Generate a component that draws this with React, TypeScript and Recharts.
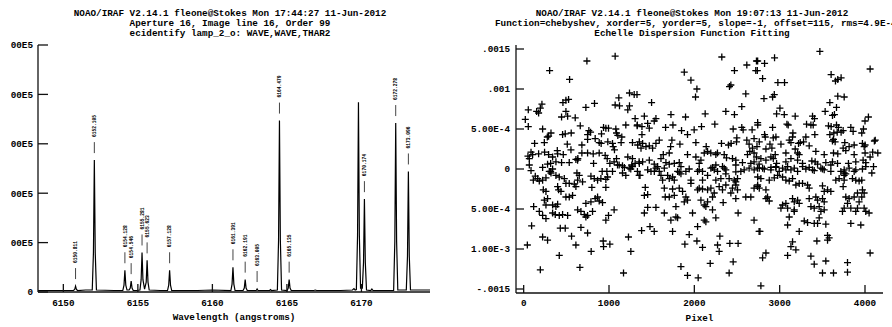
import React from 'react';
import { ComposedChart, ScatterChart, Line, Scatter, XAxis, YAxis, Label } from 'recharts';

const FONT = '"Liberation Mono", "DejaVu Sans Mono", monospace';

// ---- left panel: ThAr lamp spectrum, order 99 ----
const waveTicks = [6150, 6155, 6160, 6165, 6170];
const fluxTicks = [0, 1, 2, 3, 4, 5];

// [wavelength, flux (1e5)]
const spectrum: [number, number][] = [
  [6148.3, 0.03], [6150.0, 0.03], [6150.68, 0.03], [6150.76, 0.05], [6150.82, 0.12], [6150.88, 0.05],
  [6150.96, 0.03], [6151.5, 0.04], [6151.94, 0.04], [6152.02, 0.8], [6152.08, 2.67], [6152.14, 0.8],
  [6152.22, 0.04], [6153.4, 0.03], [6153.99, 0.03], [6154.07, 0.14], [6154.13, 0.44], [6154.19, 0.14],
  [6154.27, 0.04], [6154.41, 0.04], [6154.49, 0.08], [6154.55, 0.22], [6154.61, 0.08], [6154.69, 0.03],
  [6154.9, 0.03], [6155.14, 0.04], [6155.22, 0.25], [6155.28, 0.8], [6155.34, 0.25], [6155.45, 0.06],
  [6155.56, 0.2], [6155.62, 0.64], [6155.68, 0.2], [6155.76, 0.04], [6156.5, 0.03], [6156.99, 0.03],
  [6157.07, 0.14], [6157.13, 0.44], [6157.19, 0.14], [6157.27, 0.03], [6159.0, 0.03], [6160.0, 0.04],
  [6161.24, 0.03], [6161.32, 0.16], [6161.38, 0.5], [6161.44, 0.16], [6161.52, 0.03], [6162.06, 0.03],
  [6162.14, 0.08], [6162.2, 0.25], [6162.26, 0.08], [6162.34, 0.03], [6162.94, 0.03], [6163.0, 0.06],
  [6163.06, 0.03], [6163.84, 0.03], [6163.9, 0.05], [6163.96, 0.03], [6164.36, 0.04], [6164.44, 1.05],
  [6164.5, 3.47], [6164.56, 1.05], [6164.64, 0.04], [6165.01, 0.03], [6165.09, 0.08], [6165.15, 0.25],
  [6165.21, 0.08], [6165.29, 0.03], [6166.8, 0.03], [6166.9, 0.04], [6167.0, 0.03], [6168.6, 0.03],
  [6169.4, 0.04], [6169.5, 0.07], [6169.58, 0.04], [6169.66, 0.05], [6169.74, 1.15], [6169.8, 3.84],
  [6169.86, 1.15], [6169.94, 0.08], [6170.06, 0.08], [6170.14, 0.6], [6170.2, 1.88], [6170.26, 0.6],
  [6170.34, 0.04], [6170.62, 0.03], [6170.7, 0.06], [6170.78, 0.03], [6172.16, 0.03], [6172.24, 1.02],
  [6172.3, 3.42], [6172.36, 1.02], [6172.44, 0.04], [6173.01, 0.04], [6173.09, 0.73], [6173.15, 2.44],
  [6173.21, 0.73], [6173.29, 0.04], [6174.6, 0.04],
];

// identified lines
const lineWave = [6150.82, 6152.08, 6154.13, 6154.55, 6155.28, 6155.62, 6157.13, 6161.38, 6162.2, 6163.0, 6164.5, 6165.15, 6170.2, 6172.3, 6173.15];
const lineFlux = [0.12, 2.67, 0.44, 0.22, 0.8, 0.64, 0.44, 0.5, 0.25, 0.06, 3.47, 0.25, 1.88, 3.42, 2.44];
const lineLabel = ['6150.811', '6152.105', '6154.128', '6154.546', '6155.281', '6155.623', '6157.128', '6161.391', '6162.191', '6163.005', '6164.479', '6165.135', '6170.174', '6172.278', '6173.096'];

// ---- right panel: dispersion fit residuals ----
const pixelTicks = [0, 1000, 2000, 3000, 4000];
const residTicks = [-15, -10, -5, 0, 5, 10, 15];
const residTickText = ['-.0015', '-1.00E-3', '-5.00E-4', '0', '5.00E-4', '.001', '.0015'];

// [pixel, residual (1e-4 A)]
const residuals: [number, number][] = [
  [741, 13.5], [1072, 14.1], [304, 12.3], [538, 11.2], [54, 7.4], [152, 7.2], [175, 7.0], [195, 7.6], [214, 8.1],
  [19, 6.2], [495, 8.6], [526, 8.7], [460, 8.3], [495, 7.2], [444, 6.5], [515, 6.6], [604, 6.4], [729, 7.7],
  [830, 8.2], [1115, 8.9], [1240, 9.5], [1295, 9.3], [1072, 8.0], [1123, 7.9], [1240, 7.9], [1220, 7.4], [1306, 6.3],
  [1330, 5.4], [1197, 5.5], [54, 5.3], [222, 5.0], [663, 5.4], [292, 4.1], [320, 4.5], [277, 4.0], [456, 4.3],
  [487, 4.4], [557, 4.5], [764, 4.8], [749, 4.3], [784, 4.6], [912, 4.4], [936, 5.2], [963, 5.1], [994, 5.1],
  [1080, 5.0], [1088, 4.5], [1103, 4.2], [1150, 4.0], [128, 3.2], [242, 3.3], [511, 3.1], [682, 3.0], [749, 3.7],
  [838, 3.8], [885, 3.3], [908, 3.2], [986, 3.4], [1041, 3.2], [1049, 2.8], [1064, 2.4], [1142, 3.3], [1275, 3.3],
  [86, 2.1], [50, 1.6], [66, 1.3], [105, 1.8], [175, 1.9], [245, 2.1], [292, 1.8], [339, 1.5], [394, 2.3],
  [398, 1.9], [464, 1.8], [554, 2.4], [612, 1.2], [635, 1.3], [682, 2.0], [749, 2.0], [815, 1.9], [885, 2.0],
  [955, 1.7], [979, 1.3], [1088, 1.3], [1220, 1.5], [1275, 1.3], [66, 0.5], [280, 0.6], [316, 0.7], [378, 0.9],
  [444, 0.8], [534, 0.8], [632, 1.1], [819, 0.7], [1010, 0.7], [1060, 0.9], [1100, 0.5], [1158, 0.4], [1267, 0.5],
  [1306, 0.7], [1353, 0.9], [86, -0.2], [222, 0.2], [316, -0.3], [920, -0.3], [975, -0.3], [1255, 0.0],
  [2322, 14.0], [1882, 12.1], [1960, 11.1], [2030, 10.0], [2014, 9.0], [1328, 9.3], [2470, 12.3], [2615, 13.0],
  [2728, 13.5], [2720, 12.3], [2428, 10.5], [2412, 10.3], [2603, 9.4], [1499, 8.3], [2556, 7.8], [2369, 7.2],
  [2470, 6.8], [1726, 6.8], [1897, 6.5], [2127, 6.9], [1414, 6.6], [1550, 6.3], [1530, 6.0], [1332, 5.5],
  [1386, 5.3], [1453, 5.7], [1472, 5.1], [1663, 5.2], [1749, 5.5], [1850, 4.8], [1920, 4.3], [1998, 4.9],
  [2084, 5.3], [2240, 5.6], [2455, 5.0], [2556, 5.2], [2572, 4.9], [2677, 4.9], [2743, 5.5], [1386, 4.3],
  [1355, 3.4], [1336, 3.0], [1394, 3.2], [1433, 2.8], [1375, 2.6], [1472, 2.9], [1550, 3.2], [1589, 3.6],
  [1511, 2.6], [1737, 3.6], [1722, 2.8], [1831, 3.1], [2018, 3.3], [2139, 2.8], [2155, 2.2], [2252, 1.8],
  [2318, 3.2], [2400, 3.0], [2431, 3.2], [2498, 3.9], [2494, 3.4], [2615, 3.6], [2642, 3.1], [2700, 3.8],
  [2681, 2.6], [2650, 2.2], [2623, 1.8], [2700, 2.0], [2728, 1.5], [1636, 1.8], [1706, 2.0], [1609, 1.3],
  [1920, 1.8], [2018, 1.5], [2116, 2.0], [2193, 2.0], [2271, 2.0], [2350, 1.8], [2377, 1.4], [2447, 1.3],
  [2486, 1.1], [1355, 0.7], [1394, 0.9], [1472, 1.1], [1530, 0.6], [1570, 0.3], [1667, 0.8], [1706, 0.6],
  [1765, 0.7], [1823, 0.8], [1843, 0.3], [2057, 0.7], [2077, 1.1], [2252, 0.5], [2330, 0.3], [2486, 0.5],
  [2564, 0.8], [2662, 0.7], [2700, 0.9], [2759, 0.6], [1453, -0.1], [1531, -0.3], [1648, 0.1], [1823, -0.4],
  [1940, 0.0], [2096, -0.3], [2213, 0.2], [2369, -0.1], [2486, -0.35], [2642, 0.1],
  [3471, 14.7], [2940, 13.9], [2742, 13.5], [2823, 13.2], [2738, 12.3], [2800, 11.3], [4060, 12.5], [3603, 11.8],
  [3654, 11.0], [3681, 11.2], [3720, 11.4], [2979, 10.8], [3057, 10.8], [2816, 8.8], [2917, 9.0], [2937, 9.3],
  [3681, 9.1], [3756, 9.0], [3588, 8.3], [3666, 7.7], [3003, 7.6], [2964, 6.9], [3054, 6.8], [3182, 6.6],
  [3533, 7.2], [3619, 6.7], [3642, 6.8], [3385, 6.6], [3408, 6.3], [2742, 5.8], [2917, 5.2], [3085, 5.6],
  [3100, 5.5], [3315, 5.6], [3366, 5.5], [3393, 5.5], [3572, 5.4], [3603, 5.3], [3666, 5.5], [3689, 5.2],
  [3834, 5.2], [3982, 5.0], [2823, 4.3], [2831, 4.0], [2925, 3.9], [2956, 4.0], [3155, 4.5], [3151, 4.0],
  [3307, 4.0], [3280, 3.4], [3412, 4.3], [3588, 4.3], [3635, 4.5], [3674, 4.6], [3720, 4.6], [3744, 4.8],
  [3861, 4.7], [3962, 4.5], [2761, 3.4], [2886, 3.1], [3015, 3.1], [3112, 3.6], [3132, 3.3], [3221, 3.2],
  [3241, 3.3], [3619, 3.5], [3650, 3.4], [3631, 3.7], [3763, 3.3], [3814, 2.8], [3873, 3.0], [3970, 3.2],
  [4001, 3.0], [4110, 3.5], [2734, 2.8], [2839, 2.5], [2909, 2.6], [2948, 1.8], [3073, 2.0], [3182, 2.5],
  [3210, 2.0], [3229, 1.8], [3346, 2.9], [3424, 2.2], [3522, 1.8], [3631, 2.0], [3681, 1.9], [3744, 2.6],
  [3775, 2.3], [3873, 1.8], [4001, 2.0], [4090, 2.1], [3990, 2.8], [2780, 1.3], [2839, 1.1], [2897, 1.5],
  [2925, 1.3], [2964, 0.7], [3073, 0.9], [3132, 1.3], [3210, 1.1], [3268, 0.7], [3377, 1.0], [3416, 0.9],
  [3444, 0.6], [3541, 0.8], [3619, 0.9], [3678, 0.7], [3806, 0.7], [3892, 0.9], [3978, 1.1], [4009, 0.8],
  [2800, 0.1], [2897, -0.1], [2956, 0.2], [3073, -0.1], [3171, 0.1], [3307, 0.0], [3405, -0.2], [3502, 0.0],
  [3600, -0.3], [3756, -0.1], [3873, -0.3], [3970, 0.0], [4040, 6.5], [4000, 6.0], [4120, 3.6], [4150, 2.0],
  [4100, 0.3], [4060, 1.5], [4080, -0.5],
  [300, -0.3], [320, -0.5], [339, 0.0], [136, -0.9], [164, -1.2], [113, -1.4], [183, -1.5], [222, -1.4],
  [261, -1.1], [378, -0.8], [417, -1.0], [476, -1.2], [495, -1.8], [534, -1.8], [593, -1.9], [612, -2.2],
  [632, -1.4], [690, -1.6], [624, -0.5], [651, -0.8], [788, -0.9], [827, -1.2], [866, -1.4], [905, -1.2],
  [963, -1.3], [983, -1.0], [1041, -0.3], [799, -2.3], [963, -2.3], [230, -2.6], [261, -2.8], [398, -2.2],
  [409, -2.6], [437, -2.8], [495, -3.5], [534, -3.5], [573, -3.3], [242, -3.9], [280, -3.7], [261, -4.5],
  [339, -4.5], [378, -4.7], [398, -4.4], [729, -4.3], [788, -4.1], [838, -3.7], [866, -3.5], [885, -4.0],
  [924, -4.2], [117, -4.7], [183, -5.3], [222, -5.8], [261, -6.2], [339, -5.5], [370, -5.7], [417, -5.8],
  [456, -5.7], [515, -5.8], [632, -5.1], [671, -5.3], [710, -5.7], [729, -6.0], [749, -5.8], [807, -5.3],
  [963, -6.4], [994, -5.8], [1060, -5.1], [93, -7.1], [429, -7.4], [487, -7.4], [671, -7.3], [749, -8.0],
  [222, -8.5], [280, -8.9], [561, -8.4], [932, -9.0], [1010, -9.4], [936, -9.7], [1228, -8.5], [43, -9.5],
  [612, -9.5], [791, -10.3], [1256, -10.3], [417, -10.8], [195, -12.6], [659, -12.3], [1170, -13.0],
  [1119, 0.5], [1180, 0.2], [1236, 0.1], [1275, 0.3], [1333, -0.3], [1353, -0.8], [1158, -0.5], [1197, -0.8],
  [1363, -0.8], [1492, -0.3], [1550, 0.1], [1589, -0.3], [1609, -0.8], [1628, -1.4], [1687, -0.8], [1706, -1.2],
  [1745, -1.0], [1765, -1.4], [1804, -0.3], [1843, -0.6], [1901, -0.3], [1960, -1.4], [1960, -1.8], [2038, -0.3],
  [2057, -0.1], [2096, -1.4], [2155, -0.8], [2194, 0.1], [2233, -0.1], [2252, -1.4], [2272, -0.3], [2311, -1.2],
  [2350, 0.1], [2369, -0.6], [2408, -1.2], [2467, -1.4], [2486, -1.6], [2506, -1.2], [2545, -0.3], [2584, -0.1],
  [2701, -0.1], [2740, 0.1], [1425, -2.3], [1414, -3.3], [1453, -3.2], [1648, -2.4], [1659, -3.5], [1706, -3.5],
  [1745, -2.5], [1765, -3.3], [1823, -2.4], [1862, -2.8], [1901, -3.5], [1920, -3.9], [1882, -4.1], [2038, -2.6],
  [2057, -2.4], [2096, -2.5], [2155, -2.6], [2194, -2.4], [2213, -3.5], [2233, -3.0], [2291, -2.2], [2330, -2.6],
  [2369, -2.0], [2428, -3.0], [2447, -2.4], [2486, -2.0], [2506, -2.6], [2486, -3.7], [2603, -3.5], [2662, -3.5],
  [2700, -2.4], [2740, -2.2], [2077, -3.9], [2116, -4.5], [2155, -4.1], [2135, -4.7], [2338, -4.2], [2213, -5.1],
  [1453, -4.8], [1550, -4.8], [1414, -5.5], [1648, -5.5], [1725, -6.4], [1784, -4.7], [1784, -6.0], [1804, -6.1],
  [1979, -5.5], [2116, -6.4], [2135, -6.6], [2252, -6.1], [2513, -5.5], [2700, -6.4], [1382, -7.7], [1480, -7.2],
  [1530, -7.8], [1745, -7.8], [2038, -7.2], [1940, -8.2], [2299, -8.4], [2759, -7.8], [1889, -9.4], [2030, -9.0],
  [2096, -9.8], [2272, -9.5], [2416, -9.3], [2513, -9.3], [2291, -10.3], [1843, -12.2], [2186, -11.8],
  [2455, -11.6], [1920, -13.3], [2045, -13.6], [2408, -13.0],
  [2780, -14.6], [2761, 0.1], [2820, 0.0], [2898, 0.2], [2956, 0.3], [2995, -0.3], [3034, 0.1], [3093, 0.3],
  [3132, -0.1], [3210, -0.3], [3268, 0.3], [3346, 0.2], [3385, -0.1], [3483, 0.1], [3522, -0.1], [3600, 0.5],
  [3717, -0.3], [3756, -0.5], [3814, 0.1], [3892, -0.1], [4009, 0.3], [2742, -1.0], [2780, -1.2], [2878, -1.4],
  [2937, -1.1], [2976, -0.8], [3034, -1.0], [3073, -1.4], [3112, -1.5], [3151, -1.2], [3190, -2.0], [3229, -1.8],
  [3268, -1.8], [3327, -2.0], [3346, -2.4], [3502, -2.1], [3522, -2.8], [3561, -2.6], [3600, -2.8], [3658, -1.4],
  [3697, -1.2], [3756, -1.4], [3744, -2.2], [3756, -0.8], [3775, -0.6], [3853, -1.2], [3892, -1.4], [3931, -1.5],
  [3962, -1.4], [3970, -2.6], [3990, -3.0], [2742, -2.0], [2761, -2.4], [2839, -2.6], [2858, -3.5], [2878, -4.0],
  [2839, -3.7], [3034, -4.5], [3093, -4.9], [3073, -4.3], [3151, -3.7], [3171, -4.1], [3210, -3.9], [3229, -4.3],
  [3171, -5.3], [3112, -6.0], [3093, -7.0], [3171, -5.1], [3015, -4.9], [3346, -3.7], [3424, -3.5], [3444, -3.9],
  [3502, -3.7], [3522, -4.1], [3366, -4.7], [3405, -4.9], [3463, -4.7], [3483, -5.3], [3522, -5.1], [3288, -6.5],
  [3327, -6.7], [3405, -6.8], [3444, -6.8], [3463, -6.1], [3541, -6.9], [3229, -7.8], [3561, -8.3], [3561, -8.9],
  [3580, -8.6], [3436, -9.0], [3775, -3.5], [3814, -3.7], [3873, -3.5], [3912, -3.0], [3931, -4.1], [3962, -3.5],
  [3795, -4.3], [3736, -5.3], [3756, -4.9], [3834, -4.9], [3912, -4.9], [3892, -5.3], [3990, -4.9], [4048, -5.5],
  [4009, -5.3], [3834, -6.8], [3951, -7.0], [2769, -7.8], [3151, -9.1], [3132, -9.7], [3190, -10.1], [2800, -11.1],
  [2839, -10.5], [3093, -10.8], [3366, -10.9], [3405, -11.9], [3541, -11.5], [3795, -11.7], [4060, -10.5],
  [3502, -13.0], [3631, -13.0], [3795, -12.9],
];

const tickStyle = { fontFamily: FONT, fontSize: 9.3, fontWeight: 700, fill: '#000' };
const frameStyle = { stroke: '#111', strokeWidth: 1.3 };

const LineMark = (props: any) => {
  const { cx, cy, payload } = props;
  const tx = cx + 1.7;
  const ty = cy - 23;
  return (
    <g>
      <line x1={cx} x2={cx} y1={cy - 18} y2={cy - 7} stroke="#444" strokeWidth={1} />
      <text x={tx} y={ty} transform={`rotate(-90 ${tx} ${ty})`} fontFamily={FONT} fontSize={4.6} fontWeight={700} fill="#000">
        {payload.label}
      </text>
    </g>
  );
};

const PlusMark = (props: any) => {
  const { cx, cy } = props;
  return <path d={`M${cx - 3.5},${cy}H${cx + 3.5}M${cx},${cy - 3.5}V${cy + 3.5}`} stroke="#000" strokeWidth={1.3} fill="none" />;
};

const titleLine: React.CSSProperties = {
  position: 'absolute',
  fontFamily: FONT,
  fontSize: 9.3,
  fontWeight: 700,
  lineHeight: '10px',
  whiteSpace: 'pre',
  color: '#000',
};

function SpectrumPanel() {
  const spec = spectrum.map(([w, f]) => ({ w, f }));
  const marks = lineWave.map((w, i) => ({ w, f: lineFlux[i], label: lineLabel[i] }));
  const xDomain = [6148.3, 6174.6];
  return (
    <ComposedChart width={446} height={327} margin={{ top: 45, right: 16, bottom: 0, left: 0 }}>
      <XAxis xAxisId="b" dataKey="w" type="number" domain={xDomain} allowDataOverflow ticks={waveTicks}
        height={35} tickSize={-8} tickMargin={15} tick={tickStyle} axisLine={frameStyle} tickLine={frameStyle}>
        <Label value="Wavelength (angstroms)" position="insideBottom" offset={7} fontFamily={FONT} fontSize={9.3} fontWeight={700} fill="#000" />
      </XAxis>
      <XAxis xAxisId="t" orientation="top" dataKey="w" type="number" domain={xDomain} allowDataOverflow ticks={waveTicks}
        height={0} tickSize={-8} tick={false} axisLine={frameStyle} tickLine={frameStyle} />
      <YAxis yAxisId="l" dataKey="f" type="number" domain={[0, 5]} allowDataOverflow ticks={fluxTicks} width={38}
        tickSize={-10} tickMargin={15} tick={tickStyle} axisLine={frameStyle} tickLine={frameStyle}
        tickFormatter={(v: number) => (v === 0 ? '0' : '00E5')} />
      <YAxis yAxisId="r" orientation="right" dataKey="f" type="number" domain={[0, 5]} allowDataOverflow ticks={fluxTicks}
        width={0} tickSize={-8} tick={false} axisLine={frameStyle} tickLine={frameStyle} />
      <Line xAxisId="b" yAxisId="l" data={spec} dataKey="f" type="linear" stroke="#000" strokeWidth={1.2}
        dot={false} activeDot={false} isAnimationActive={false} />
      <Scatter xAxisId="b" yAxisId="l" data={marks} dataKey="f" shape={LineMark} isAnimationActive={false} />
    </ComposedChart>
  );
}

function ResidualPanel() {
  const data = residuals.map(([px, r]) => ({ px, r }));
  const xDomain = [-90, 4211];
  const yDomain = [-15.5, 15.5];
  return (
    <ScatterChart width={446} height={327} margin={{ top: 45, right: 9, bottom: 0, left: 0 }}>
      <XAxis xAxisId="b" dataKey="px" type="number" domain={xDomain} allowDataOverflow ticks={pixelTicks}
        height={34} tickSize={-8} tickMargin={14} tick={tickStyle} axisLine={frameStyle} tickLine={frameStyle}>
        <Label value="Pixel" position="insideBottom" offset={6} fontFamily={FONT} fontSize={9.3} fontWeight={700} fill="#000" />
      </XAxis>
      <XAxis xAxisId="t" orientation="top" dataKey="px" type="number" domain={xDomain} allowDataOverflow ticks={pixelTicks}
        height={0} tickSize={-8} tick={false} axisLine={frameStyle} tickLine={frameStyle} />
      <YAxis yAxisId="l" dataKey="r" type="number" domain={yDomain} allowDataOverflow ticks={residTicks} width={70}
        tickSize={-8} tickMargin={14} tick={tickStyle} axisLine={frameStyle} tickLine={frameStyle}
        tickFormatter={(v: number) => residTickText[residTicks.indexOf(v)] ?? ''} />
      <YAxis yAxisId="r" orientation="right" dataKey="r" type="number" domain={yDomain} allowDataOverflow ticks={residTicks}
        width={0} tickSize={-8} tick={false} axisLine={frameStyle} tickLine={frameStyle} />
      <Scatter xAxisId="b" yAxisId="l" data={data} shape={PlusMark} isAnimationActive={false} />
    </ScatterChart>
  );
}

export default function App() {
  return (
    <div style={{ position: 'absolute', left: 0, top: 0, width: 892, height: 327, overflow: 'hidden', background: '#fff' }}>
      <div style={{ position: 'absolute', left: 0, top: 0 }}>
        <SpectrumPanel />
      </div>
      {/* the right plot's window starts a little inside its panel, so long tick labels lose their left edge */}
      <div style={{ position: 'absolute', left: 470, top: 0, width: 422, height: 327, overflow: 'hidden' }}>
        <div style={{ position: 'absolute', left: -24, top: 0 }}>
          <ResidualPanel />
        </div>
      </div>
      <div style={{ ...titleLine, left: 0, width: 460, top: 9.2, textAlign: 'center' }}>
        {'NOAO/IRAF V2.14.1 fleone@Stokes Mon 17:44:27 11-Jun-2012\nAperture 16, Image line 16, Order 99\necidentify lamp_2_o: WAVE,WAVE,THAR2'}
      </div>
      <div style={{ ...titleLine, left: 492, width: 400, top: 9.2, textAlign: 'center' }}>
        {'NOAO/IRAF V2.14.1 fleone@Stokes Mon 19:07:13 11-Jun-2012'}
      </div>
      <div style={{ ...titleLine, left: 495, top: 19.2 }}>
        {'Function=chebyshev, xorder=5, yorder=5, slope=-1, offset=115, rms=4.9E-4'}
      </div>
      <div style={{ ...titleLine, left: 492, width: 400, top: 29.2, textAlign: 'center' }}>
        {'Echelle Dispersion Function Fitting'}
      </div>
    </div>
  );
}
